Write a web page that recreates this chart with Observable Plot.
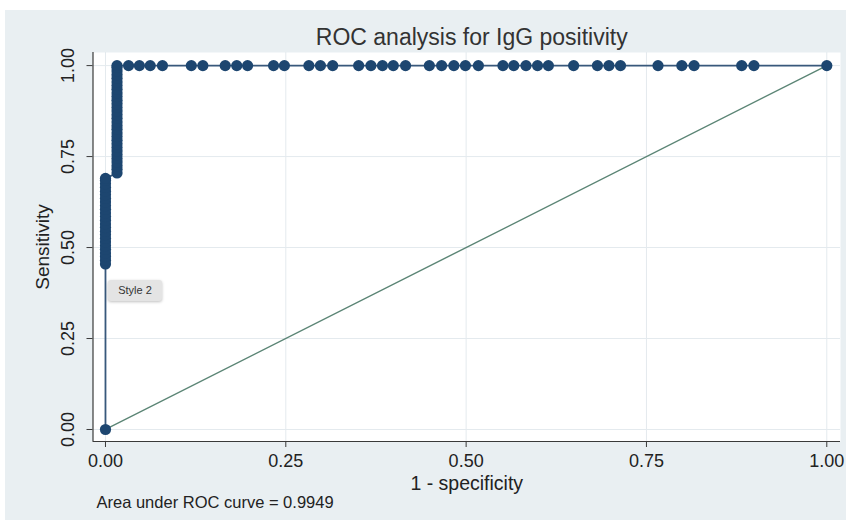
<!DOCTYPE html>
<html>
<head>
<meta charset="utf-8">
<script src="https://cdn.jsdelivr.net/npm/d3@7"></script>
<script src="https://cdn.jsdelivr.net/npm/@observablehq/plot@0.6"></script>
<style>
  html, body { margin: 0; padding: 0; background: #ffffff; }
  #wrap { position: relative; width: 846px; height: 523px; overflow: hidden; background: #ffffff; }
  #panel { position: absolute; left: 5px; top: 10px; right: 0; bottom: 3px; background: #e9eff2; }
  #chart { position: absolute; left: 0; top: 0; }
  #tipbox { position: absolute; left: 108px; top: 280px; width: 54px; height: 21px; background: #e4e4e4;
            border-radius: 3px; box-shadow: 0 1px 3px rgba(0,0,0,0.25); font: 11px "Liberation Sans", Arial, sans-serif;
            color: #333; line-height: 21px; text-align: center; }
</style>
</head>
<body>
<div id="wrap">
  <div id="panel"></div>
  <div id="chart"></div>
  <div id="tipbox">Style 2</div>
</div>
<script>
// ---- data ----
const titleText = "ROC analysis for IgG positivity";
const xLabel = "1 - specificity";
const yLabel = "Sensitivity";
const captionText = "Area under ROC curve = 0.9949";
const xTicks = [0, 0.25, 0.5, 0.75, 1];
const yTicks = [0, 0.25, 0.5, 0.75, 1];
const xDomain = [-0.0173, 1.019];
const yDomain = [-0.033, 1.036];

// origin point of the ROC curve
const originPoint = [0, 0];
// sensitivity values of the dense stack at 1 - specificity = 0
const clusterAFpr = 0;
const clusterATpr = [0.455, 0.465, 0.475, 0.485, 0.495, 0.505, 0.515, 0.525, 0.535, 0.545, 0.555, 0.565,
  0.575, 0.585, 0.595, 0.605, 0.615, 0.625, 0.635, 0.645, 0.655, 0.665, 0.675, 0.685, 0.69];
// sensitivity values of the dense stack at 1 - specificity = 0.016
const clusterBFpr = 0.016;
const clusterBTpr = [0.705, 0.715, 0.725, 0.735, 0.745, 0.755, 0.765, 0.775, 0.785, 0.795, 0.805, 0.815,
  0.825, 0.835, 0.845, 0.855, 0.865, 0.875, 0.885, 0.895, 0.905, 0.915, 0.925, 0.935, 0.945, 0.955,
  0.965, 0.975, 0.985, 0.995, 1.0];
// 1 - specificity values of points with sensitivity = 1
const topRowTpr = 1;
const topRowFpr = [0.032, 0.047, 0.062, 0.079, 0.119, 0.135, 0.166, 0.182, 0.197, 0.233, 0.248, 0.282,
  0.298, 0.315, 0.351, 0.368, 0.384, 0.399, 0.416, 0.449, 0.466, 0.483, 0.499, 0.517, 0.551, 0.566,
  0.583, 0.599, 0.614, 0.649, 0.682, 0.698, 0.714, 0.766, 0.799, 0.816, 0.882, 0.899, 1.0];
// reference (chance) line
const refLine = [[0, 0], [1, 1]];

// ---- build table ----
const roc = [
  {x: originPoint[0], y: originPoint[1]},
  ...clusterATpr.map(v => ({x: clusterAFpr, y: v})),
  ...clusterBTpr.map(v => ({x: clusterBFpr, y: v})),
  ...topRowFpr.map(v => ({x: v, y: topRowTpr}))
];
const ref = refLine.map(([x, y]) => ({x, y}));

const font = '"Liberation Sans", Arial, Helvetica, sans-serif';
const navy = "#1d4670";

const chart = Plot.plot({
  width: 846,
  height: 523,
  marginLeft: 92.5,
  marginRight: 6,
  marginTop: 52,
  marginBottom: 82,
  style: {background: "transparent", fontFamily: font, color: "#222", overflow: "visible"},
  x: {domain: xDomain, axis: null},
  y: {domain: yDomain, axis: null},
  marks: [
    Plot.frame({fill: "#ffffff", stroke: null}),
    Plot.gridX(xTicks, {stroke: "#e4eaee", strokeOpacity: 1, strokeWidth: 1}),
    Plot.gridY(yTicks, {stroke: "#e4eaee", strokeOpacity: 1, strokeWidth: 1}),
    Plot.ruleX([xDomain[0]], {stroke: "#3a3a3a", strokeWidth: 1.2}),
    Plot.ruleY([yDomain[0]], {stroke: "#3a3a3a", strokeWidth: 1.2}),
    Plot.axisX({ticks: xTicks, tickSize: 6, tickPadding: 7, tickFormat: d3.format(".2f"), fontSize: 18, label: null, stroke: "#3a3a3a"}),
    Plot.axisY({ticks: yTicks, tickSize: 6, tickFormat: () => "", label: null, stroke: "#3a3a3a"}),
    Plot.text(yTicks, {y: d => d, text: d3.format(".2f"), frameAnchor: "left", dx: -24.5, rotate: -90,
      textAnchor: "middle", lineAnchor: "middle", fontSize: 18, fill: "#222"}),
    Plot.line(ref, {x: "x", y: "y", stroke: "#5b8575", strokeWidth: 1.4}),
    Plot.line(roc, {x: "x", y: "y", stroke: "#38587b", strokeWidth: 1.8}),
    Plot.dot(roc, {x: "x", y: "y", r: 5.6, fill: navy, stroke: null}),
    Plot.text([titleText], {frameAnchor: "top", dx: 5, dy: -15, textAnchor: "middle", lineAnchor: "middle", fontSize: 23, fill: "#333"}),
    Plot.text([xLabel], {frameAnchor: "bottom", dy: 42, textAnchor: "middle", lineAnchor: "middle", fontSize: 19.5, fill: "#222"}),
    Plot.text([yLabel], {frameAnchor: "left", dx: -50, rotate: -90, textAnchor: "middle", lineAnchor: "middle", fontSize: 19, fill: "#222"}),
    Plot.text([captionText], {frameAnchor: "bottom-left", dx: 3.5, dy: 61, textAnchor: "start", lineAnchor: "middle", fontSize: 16.5, fill: "#222"})
  ]
});
document.getElementById("chart").appendChild(chart);
</script>
</body>
</html>
